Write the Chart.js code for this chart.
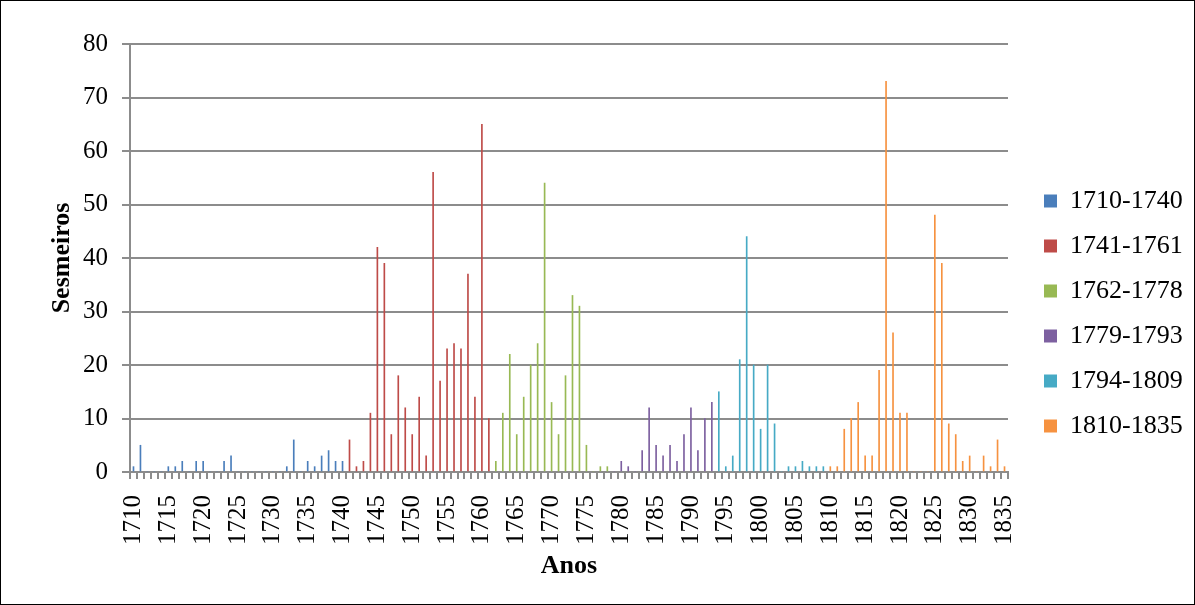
<!DOCTYPE html>
<html>
<head>
<meta charset="utf-8">
<title>Sesmeiros por ano</title>
<script src="https://cdn.jsdelivr.net/npm/chart.js@4.4.0/dist/chart.umd.min.js"></script>
<style>
  html, body { margin: 0; padding: 0; background: #fff; }
  #wrap { width: 1195px; height: 605px; box-sizing: border-box; border: 1px solid #000; }
  canvas { display: block; }
</style>
</head>
<body>
<div id="wrap"><canvas id="chart" width="1193" height="603"></canvas></div>
<script>
// Categories: one per year
const firstYear = 1710;
const lastYear = 1835;
const years = [];
for (let y = firstYear; y <= lastYear; y++) years.push(String(y));

// Periods (series) and the first year of each
const periods = ['1710-1740', '1741-1761', '1762-1778', '1779-1793', '1794-1809', '1810-1835'];
const periodStart = [1710, 1741, 1762, 1779, 1794, 1810];

// Sesmeiros per year
const s1710_1740 = [1, 5, 0, 0, 0, 1, 1, 2, 0, 2, 2, 0, 0, 2, 3, 0, 0, 0, 0, 0, 0, 0, 1, 6, 0, 2, 1, 3, 4, 2, 2];
const s1741_1761 = [6, 1, 2, 11, 42, 39, 7, 18, 12, 7, 14, 3, 56, 17, 23, 24, 23, 37, 14, 65, 10];
const s1762_1778 = [2, 11, 22, 7, 14, 20, 24, 54, 13, 7, 18, 33, 31, 5, 0, 1, 1];
const s1779_1793 = [0, 2, 1, 0, 4, 12, 5, 3, 5, 2, 7, 12, 4, 10, 13];
const s1794_1809 = [15, 1, 3, 21, 44, 20, 8, 20, 9, 0, 1, 1, 2, 1, 1, 1];
const s1810_1835 = [1, 1, 8, 10, 13, 3, 3, 19, 73, 26, 11, 11, 0, 0, 0, 48, 39, 9, 7, 2, 3, 0, 3, 1, 6, 1];

const seriesValues = [s1710_1740, s1741_1761, s1762_1778, s1779_1793, s1794_1809, s1810_1835];
const yTicks = [0, 10, 20, 30, 40, 50, 60, 70, 80];

const colors = ['#4A7EBB', '#BE4B48', '#98B954', '#7D60A0', '#46AAC5', '#F69240'];
const fontFamily = "'Liberation Serif', 'Times New Roman', serif";
const gridColor = '#8c8c8c';

// Spread each period over the full year axis
function fullRow(values, start) {
    return years.map(y => {
        const i = Number(y) - start;
        return (i >= 0 && i < values.length) ? values[i] : null;
    });
}

const datasets = periods.map((label, k) => ({
    label: label,
    data: fullRow(seriesValues[k], periodStart[k]),
    backgroundColor: colors[k],
    borderWidth: 0,
    barThickness: 1,
    grouped: false
}));

// Place the legend like the original (fixed column right of the plot)
const legendPlace = {
    id: 'legendPlace',
    beforeInit(chart) {
        const fit = chart.legend.fit;
        chart.legend.fit = function () {
            fit.call(this);
            this.width = 186;
        };
    },
    afterLayout(chart) {
        const lg = chart.legend;
        lg.left = 1024;
        lg.top = 168;
        lg.bottom = 168 + 289;
    }
};

new Chart(document.getElementById('chart'), {
    type: 'bar',
    data: { labels: years, datasets: datasets },
    plugins: [legendPlace],
    options: {
        responsive: false,
        animation: false,
        devicePixelRatio: 1,
        layout: { padding: { top: 43, left: 0, right: 0, bottom: 0 } },
        plugins: {
            tooltip: { enabled: false },
            legend: {
                position: 'right',
                labels: {
                    boxWidth: 13,
                    boxHeight: 13,
                    padding: 19,
                    color: '#000',
                    font: { family: fontFamily, size: 26 }
                }
            }
        },
        scales: {
            x: {
                offset: true,
                grid: {
                    offset: true,
                    drawOnChartArea: false,
                    drawTicks: true,
                    tickLength: 7,
                    color: gridColor,
                    lineWidth: 2
                },
                border: { color: gridColor, width: 2 },
                ticks: {
                    autoSkip: false,
                    minRotation: 90,
                    maxRotation: 90,
                    padding: 16,
                    color: '#000',
                    font: { family: fontFamily, size: 25 },
                    callback: function (value, index) {
                        const y = years[index];
                        return Number(y) % 5 === 0 ? y : '';
                    }
                },
                title: {
                    display: true,
                    text: 'Anos',
                    color: '#000',
                    font: { family: fontFamily, size: 26, weight: 'bold' },
                    padding: { top: 0, bottom: 22 }
                },
                afterFit: function (scale) { scale.height = 132; }
            },
            y: {
                min: yTicks[0],
                max: yTicks[yTicks.length - 1],
                grid: {
                    color: gridColor,
                    lineWidth: 2,
                    tickLength: 8
                },
                border: { color: gridColor, width: 2 },
                ticks: {
                    stepSize: yTicks[1] - yTicks[0],
                    padding: 14,
                    color: '#000',
                    font: { family: fontFamily, size: 25 }
                },
                title: {
                    display: true,
                    text: 'Sesmeiros',
                    color: '#000',
                    font: { family: fontFamily, size: 26, weight: 'bold' },
                    padding: { top: 46, bottom: 0 }
                },
                afterFit: function (scale) { scale.width = 129; }
            }
        }
    }
});
</script>
</body>
</html>
